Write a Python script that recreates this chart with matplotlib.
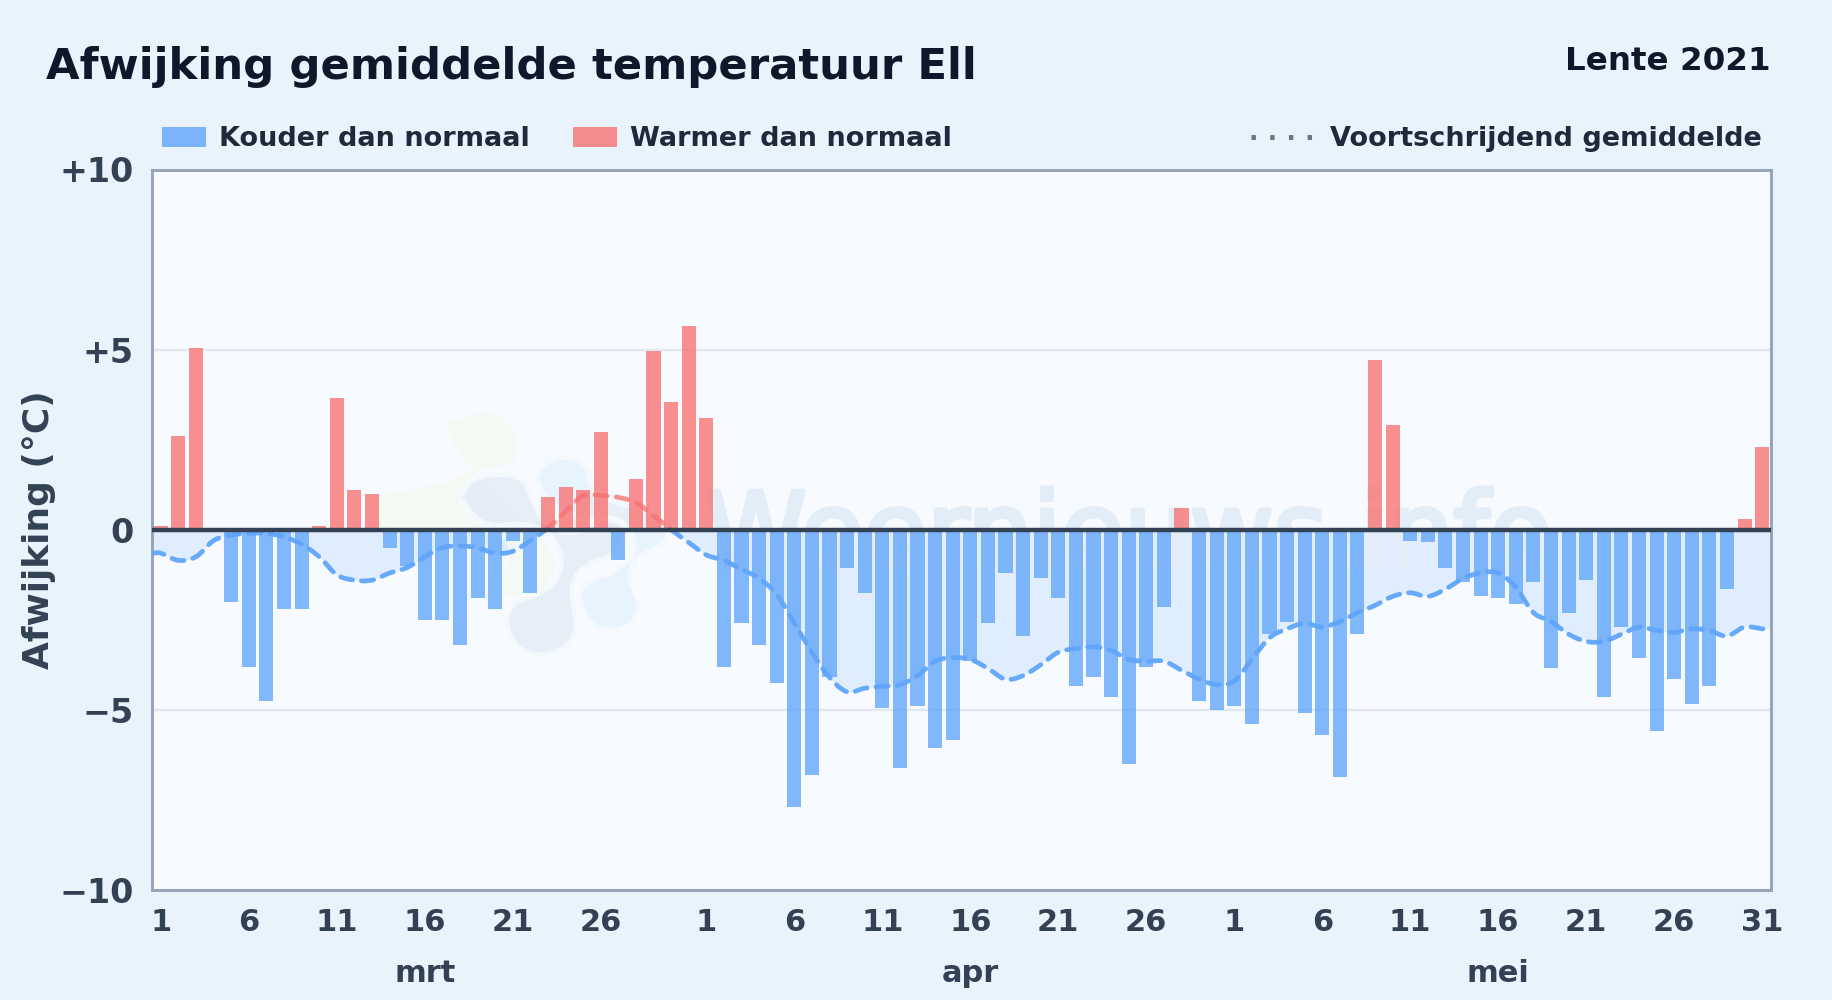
import numpy as np
import matplotlib
matplotlib.use("Agg")
import matplotlib.pyplot as plt
import matplotlib.patheffects as pe
from matplotlib.patches import PathPatch, Rectangle
from matplotlib.path import Path
from matplotlib.lines import Line2D

maart = [0.1,2.6,5.05,0,-2.0,-3.8,-4.75,-2.2,-2.2,0.1,3.65,1.1,1.0,-0.5,-1.0,-2.5,-2.5,-3.2,-1.9,-2.2,-0.3,-1.75,0.9,1.2,1.1,2.7,-0.85,1.4,4.95,3.55,5.65]
april = [3.1,-3.8,-2.6,-3.2,-4.25,-7.7,-6.8,-4.1,-1.05,-1.75,-4.95,-6.6,-4.9,-6.05,-5.85,-3.65,-2.6,-1.2,-2.95,-1.35,-1.9,-4.35,-4.1,-4.65,-6.5,-3.8,-2.15,0.6,-4.75,-5.0]
mei = [-4.9,-5.4,-2.9,-2.55,-5.1,-5.7,-6.85,-2.9,4.7,2.9,-0.3,-0.35,-1.05,-1.45,-1.85,-1.9,-2.05,-1.45,-3.85,-2.3,-1.4,-4.65,-2.7,-3.55,-5.6,-4.15,-4.85,-4.35,-1.65,0.3,2.3]
gem_maart = [-0.65,-0.85,-0.75,-0.3,-0.15,-0.1,-0.1,-0.2,-0.4,-0.75,-1.25,-1.4,-1.4,-1.2,-1.05,-0.75,-0.5,-0.45,-0.5,-0.65,-0.6,-0.3,0.05,0.5,0.95,0.95,0.9,0.75,0.4,0.0,-0.35]
gem_april = [-0.7,-0.85,-1.1,-1.35,-1.8,-2.6,-3.4,-4.1,-4.5,-4.4,-4.35,-4.3,-4.05,-3.65,-3.55,-3.6,-3.85,-4.15,-4.05,-3.75,-3.4,-3.3,-3.25,-3.35,-3.6,-3.65,-3.65,-3.9,-4.15,-4.3]
gem_mei = [-4.2,-3.6,-3.0,-2.75,-2.6,-2.7,-2.55,-2.3,-2.1,-1.85,-1.75,-1.85,-1.65,-1.35,-1.2,-1.2,-1.6,-2.3,-2.55,-2.9,-3.1,-3.1,-2.9,-2.7,-2.8,-2.85,-2.75,-2.8,-2.95,-2.7,-2.75]
dag_labels = ["1","6","11","16","21","26","1","6","11","16","21","26","1","6","11","16","21","26","31"]
dag_index = [0,5,10,15,20,25,31,36,41,46,51,56,61,66,71,76,81,86,91]
maanden = ["mrt","apr","mei"]
maand_pos = [15,46,76]
y_ticks = [-10,-5,0,5,10]
y_labels = ["\u221210","\u22125","0","+5","+10"]

W,H = 1832,1000
BLUE="#60a5fa"; RED="#f87171"; DARK="#334155"
AXBG="#f7fbff"
fig = plt.figure(figsize=(W/100,H/100),dpi=100,facecolor="#e8f3fc")
L,R,T,B = 152,1771,169.5,890
ax = fig.add_axes([L/W,1-B/H,(R-L)/W,(B-T)/H],facecolor=AXBG)
vals = np.array(maart+april+mei,float)
gem = np.array(gem_maart+gem_april+gem_mei,float)
x = np.arange(len(vals))

# smooth curve through the rolling mean (Catmull-Rom), held flat to the frame edges
def smooth(xs,ys,n=12):
    px = np.r_[xs[0]-1,xs,xs[-1]+1]; py = np.r_[ys[0],ys,ys[-1]]
    ox,oy=[],[]
    for i in range(1,len(px)-2):
        t=np.linspace(0,1,n,endpoint=False)
        c=lambda p:0.5*(2*p[i]+(p[i+1]-p[i-1])*t+(2*p[i-1]-5*p[i]+4*p[i+1]-p[i+2])*t**2+(3*p[i]-p[i-1]-3*p[i+1]+p[i+2])*t**3)
        ox.append(c(px)); oy.append(c(py))
    return np.r_[np.concatenate(ox),xs[-1]],np.r_[np.concatenate(oy),ys[-1]]
xe = np.r_[-0.5,x,len(x)-0.5]; ye = np.r_[gem[0],gem,gem[-1]]
sx,sy = smooth(xe,ye)

ax.set_xlim(-0.5,len(x)-0.5); ax.set_ylim(-10,10)
ax.yaxis.grid(True,color="#e2e8f0",lw=1.6); ax.set_axisbelow(True)
ax.fill_between(sx,sy,0,where=sy<=0,interpolate=True,color="#dbeafe",alpha=0.8,lw=0,zorder=1)
ax.fill_between(sx,sy,0,where=sy>=0,interpolate=True,color="#fee2e2",alpha=0.8,lw=0,zorder=1)

# faint watermark: three rounded blobs and the site name
def blob(pts,fc,halo=False,z=1.5):
    p=np.array(pts,float)
    n=len(p); out=[]
    for i in range(n):
        a,b,c,d=p[(i-1)%n],p[i],p[(i+1)%n],p[(i+2)%n]
        for t in np.linspace(0,1,10,endpoint=False):
            out.append(0.5*(2*b+(c-a)*t+(2*a-5*b+4*c-d)*t**2+(3*b-a-3*c+d)*t**3))
    out=np.array(out)
    fx=(360+out[:,0]/3)/W; fy=1-(390+out[:,1]/3)/H
    ax.add_patch(PathPatch(Path(np.c_[fx,fy]),transform=fig.transFigure,fc=fc,
                           ec=AXBG if halo else "none",lw=5 if halo else 0,alpha=0.8,zorder=z))
blob([(265,130),(310,85),(380,70),(440,95),(475,165),(455,215),(380,235),(300,255),(250,280),(150,300),(70,320),(60,415),(420,440),(430,600),(510,610),(575,560),(580,500),(540,440),(450,380)],"#f2f9f1")
blob([(530,260),(560,215),(620,200),(680,225),(700,290),(780,340),(860,350),(925,420),(900,470),(830,510),(815,570),(840,650),(810,705),(750,722),(690,700),(655,620),(690,570),(760,540),(820,480),(780,400),(650,380),(560,330)],"#e4f2fd",halo=True,z=1.52)
blob([(305,320),(340,268),(420,250),(490,270),(525,340),(560,400),(640,425),(740,385),(800,420),(770,490),(700,520),(650,560),(640,620),(652,710),(620,770),(540,798),(470,770),(438,700),(460,640),(530,610),(585,570),(600,500),(560,430),(480,405),(400,410),(340,380)],"#e2ecf7",halo=True,z=1.54)
ax.text(705/W,1-566/H,"Weernieuws.info",transform=fig.transFigure,fontsize=74,color="#e3edf8",ha="left",va="baseline",zorder=1.6,
        path_effects=[pe.withStroke(linewidth=3.5,foreground="#e3edf8")])

ax.bar(x,vals,width=0.8,color=[RED if v>0 else BLUE for v in vals],alpha=0.78,lw=0,zorder=2)

# rolling mean, coloured by sign
def dash(mask,col,al):
    ax.plot(sx,np.where(mask,sy,np.nan),color=col,lw=3.4,ls=(0,(2.6,1.9)),alpha=al,zorder=3,dash_capstyle="round")
dash(sy<=0.02,BLUE,0.95); dash(sy>=-0.02,RED,0.75)
ax.axhline(0,color=DARK,lw=3.2,zorder=4)

for s in ax.spines.values():
    s.set_color("#94a3b8"); s.set_linewidth(2.1)
ax.set_yticks(y_ticks); ax.set_yticklabels(y_labels,fontsize=24,fontweight="bold",color=DARK)
ax.set_xticks(dag_index); ax.set_xticklabels(dag_labels,fontsize=22,fontweight="bold",color=DARK)
ax.tick_params(length=0,axis="y",pad=13); ax.tick_params(length=0,axis="x",pad=13)
for m,p in zip(maanden,maand_pos):
    ax.text(p,-12.32,m,ha="center",va="center",fontsize=22,fontweight="bold",color=DARK)
fig.text(39.5/W,1-530/H,"Afwijking (°C)",rotation=90,ha="center",va="center",fontsize=25.9,fontweight="bold",color=DARK)
fig.text(46/W,1-67.5/H,"Afwijking gemiddelde temperatuur Ell",fontsize=31.2,fontweight="bold",color="#0f172a",ha="left",va="center")
fig.text(1771/W,1-61/H,"Lente 2021",fontsize=23.4,fontweight="bold",color="#0f172a",ha="right",va="center")

# legend
for x0,col in [(162,BLUE),(573,RED)]:
    fig.add_artist(Rectangle((x0/W,1-147/H),44/W,20/H,transform=fig.transFigure,fc=col,ec="none",alpha=0.8))
fig.text(219/W,1-139/H,"Kouder dan normaal",fontsize=19.5,fontweight="bold",color="#1e293b",va="center")
fig.text(630/W,1-139/H,"Warmer dan normaal",fontsize=19.5,fontweight="bold",color="#1e293b",va="center")
fig.add_artist(Line2D([1251/W,1312/W],[1-137/H]*2,transform=fig.transFigure,color="#64748b",lw=3.5,ls=(0,(0.9,2.95)),dash_capstyle="butt"))
fig.text(1330/W,1-139/H,"Voortschrijdend gemiddelde",fontsize=19.5,fontweight="bold",color="#1e293b",va="center")
fig.savefig("out.png",dpi=100,facecolor=fig.get_facecolor())
